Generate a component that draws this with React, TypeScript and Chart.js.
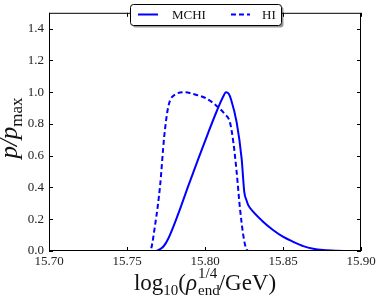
import React, { useEffect, useRef } from "react";
import { Chart, registerables } from "chart.js";

Chart.register(...registerables);

const xTickValues = [15.7, 15.75, 15.8, 15.85, 15.9];
const yTickValues = [0, 0.2, 0.4, 0.6, 0.8, 1.0, 1.2, 1.4];

const mchiX = [15.70, 15.767, 15.7701, 15.7735, 15.7765, 15.7829, 15.7893, 15.7957, 15.8021, 15.8075, 15.8113, 15.8135, 15.8152, 15.8167, 15.8203, 15.8235, 15.8252, 15.8266, 15.8278, 15.8310, 15.8374, 15.8438, 15.8502, 15.8566, 15.863, 15.8694, 15.8758, 15.8844, 15.90];
const mchiY = [0, 0, 0.006, 0.03, 0.079, 0.235, 0.41, 0.58, 0.746, 0.88, 0.965, 1.0, 0.99, 0.954, 0.81, 0.58, 0.37, 0.32, 0.2875, 0.246, 0.183, 0.131, 0.089, 0.058, 0.031, 0.014, 0.006, 0.002, 0];

const hiX = [15.70, 15.7647, 15.768, 15.7712, 15.7739, 15.7765, 15.7808, 15.7872, 15.7936, 15.80, 15.8064, 15.8128, 15.816, 15.8182, 15.8203, 15.8224, 15.8246, 15.8262, 15.828, 15.90];
const hiY = [0, 0, 0.163, 0.41, 0.725, 0.91, 0.985, 1.0, 0.985, 0.965, 0.923, 0.86, 0.81, 0.683, 0.496, 0.27, 0.095, 0.02, 0, 0];

const seriesNames = ["MCHI", "HI"];

const SERIF = "'Liberation Serif', 'DejaVu Serif', serif";
const BLUE = "#0000ff";

type Run = { text?: string; font?: string; dy?: number; sup?: string; sub?: string; supFont?: string; subFont?: string; supDy?: number; subDy?: number };

function drawRuns(ctx: CanvasRenderingContext2D, runs: Run[], cx: number, baseline: number) {
  const widths = runs.map((r) => {
    if (r.text !== undefined) {
      ctx.font = r.font!;
      return ctx.measureText(r.text).width;
    }
    ctx.font = r.supFont!;
    const a = ctx.measureText(r.sup!).width;
    ctx.font = r.subFont!;
    const b = ctx.measureText(r.sub!).width;
    return Math.max(a, b);
  });
  const total = widths.reduce((s, w) => s + w, 0);
  let x = cx - total / 2;
  ctx.textAlign = "left";
  ctx.textBaseline = "alphabetic";
  runs.forEach((r, i) => {
    if (r.text !== undefined) {
      ctx.font = r.font!;
      ctx.fillText(r.text, x, baseline + (r.dy || 0));
    } else {
      ctx.font = r.supFont!;
      ctx.fillText(r.sup!, x + 1, baseline + (r.supDy || 0));
      ctx.font = r.subFont!;
      ctx.fillText(r.sub!, x + 1, baseline + (r.subDy || 0));
    }
    x += widths[i];
  });
}

const decorPlugin = {
  id: "decor",
  afterDraw(chart: any) {
    const { ctx, chartArea, scales } = chart;
    const { left, right, top, bottom } = chartArea;
    const xs = scales.x;
    const ys = scales.y;
    ctx.save();
    ctx.strokeStyle = "#000";
    ctx.lineWidth = 1;
    ctx.setLineDash([]);
    // inward ticks
    const tl = 4;
    ctx.beginPath();
    xTickValues.forEach((v) => {
      const px = Math.round(xs.getPixelForValue(v)) + 0.5;
      ctx.moveTo(px, bottom);
      ctx.lineTo(px, bottom - tl);
      ctx.moveTo(px, top);
      ctx.lineTo(px, top + tl);
    });
    yTickValues.forEach((v) => {
      const py = Math.round(ys.getPixelForValue(v)) + 0.5;
      ctx.moveTo(left, py);
      ctx.lineTo(left + tl, py);
      ctx.moveTo(right, py);
      ctx.lineTo(right - tl, py);
    });
    ctx.stroke();
    // frame
    ctx.strokeRect(left + 0.5, top + 0.5, right - left - 1, bottom - top - 1);

    // legend
    const lx = 130.5, ly = 4.5, lw = 151, lh = 21, r = 3;
    const rr = (x: number, y: number) => {
      ctx.beginPath();
      ctx.moveTo(x + r, y);
      ctx.lineTo(x + lw - r, y);
      ctx.quadraticCurveTo(x + lw, y, x + lw, y + r);
      ctx.lineTo(x + lw, y + lh - r);
      ctx.quadraticCurveTo(x + lw, y + lh, x + lw - r, y + lh);
      ctx.lineTo(x + r, y + lh);
      ctx.quadraticCurveTo(x, y + lh, x, y + lh - r);
      ctx.lineTo(x, y + r);
      ctx.quadraticCurveTo(x, y, x + r, y);
      ctx.closePath();
    };
    rr(lx + 2, ly + 2);
    ctx.fillStyle = "rgba(0,0,0,0.4)";
    ctx.fill();
    rr(lx, ly);
    ctx.fillStyle = "#fff";
    ctx.fill();
    ctx.strokeStyle = "#000";
    ctx.lineWidth = 1;
    ctx.stroke();

    const legY = 14.5;
    ctx.strokeStyle = BLUE;
    ctx.lineWidth = 2;
    ctx.beginPath();
    ctx.moveTo(138, legY);
    ctx.lineTo(158, legY);
    ctx.stroke();
    ctx.setLineDash([5, 3]);
    ctx.beginPath();
    ctx.moveTo(231, legY);
    ctx.lineTo(250, legY);
    ctx.stroke();
    ctx.setLineDash([]);
    ctx.fillStyle = "#111";
    ctx.font = "13px " + SERIF;
    ctx.textAlign = "left";
    ctx.textBaseline = "middle";
    ctx.fillText(seriesNames[0], 172, legY + 1);
    ctx.fillText(seriesNames[1], 262, legY + 1);

    // x axis title
    ctx.fillStyle = "#111";
    const big = "23px " + SERIF;
    const bigI = "italic 23px " + SERIF;
    const small = "15px " + SERIF;
    drawRuns(
      ctx,
      [
        { text: "log", font: big },
        { text: "10", font: small, dy: 5 },
        { text: "(", font: big },
        { text: "ρ", font: bigI },
        { sup: "1/4", sub: "end", supFont: small, subFont: small, supDy: -12, subDy: 5 },
        { text: "/GeV)", font: big },
      ],
      (left + right) / 2,
      290
    );

    // y axis title
    ctx.save();
    ctx.translate(17, 128);
    ctx.rotate(-Math.PI / 2);
    drawRuns(
      ctx,
      [
        { text: "p/p", font: "italic 25px " + SERIF },
        { text: "max", font: "17px " + SERIF, dy: 5 },
      ],
      0,
      0
    );
    ctx.restore();
    ctx.restore();
  },
};

export default function App() {
  const ref = useRef<HTMLCanvasElement | null>(null);
  useEffect(() => {
    document.body.style.margin = "0";
    const canvas = ref.current!;
    const mchi = mchiX.map((x, i) => ({ x, y: mchiY[i] }));
    const hi = hiX.map((x, i) => ({ x, y: hiY[i] }));
    const chart = new Chart(canvas, {
      type: "line",
      data: {
        datasets: [
          {
            label: seriesNames[0],
            data: mchi,
            borderColor: BLUE,
            borderWidth: 2,
            pointRadius: 0,
            fill: false,
            cubicInterpolationMode: "monotone",
          },
          {
            label: seriesNames[1],
            data: hi,
            borderColor: BLUE,
            borderWidth: 2,
            borderDash: [5, 3],
            pointRadius: 0,
            fill: false,
            cubicInterpolationMode: "monotone",
          },
        ],
      },
      options: {
        responsive: false,
        animation: false,
        devicePixelRatio: 1,
        layout: { padding: { top: 11, right: 20, left: 0, bottom: 0 } },
        plugins: { legend: { display: false }, tooltip: { enabled: false } },
        scales: {
          x: {
            type: "linear",
            min: 15.7,
            max: 15.9,
            grid: { display: false, drawTicks: false },
            border: { display: false },
            afterBuildTicks: (s: any) => {
              s.ticks = xTickValues.map((v) => ({ value: v }));
            },
            afterFit: (s: any) => {
              s.height = 54;
            },
            ticks: {
              padding: 3,
              color: "#222",
              font: { family: SERIF, size: 13 },
              maxRotation: 0,
              autoSkip: false,
              callback: (v: any) => Number(v).toFixed(2),
            },
          },
          y: {
            type: "linear",
            min: 0,
            max: 1.5,
            grid: { display: false, drawTicks: false },
            border: { display: false },
            afterBuildTicks: (s: any) => {
              s.ticks = yTickValues.map((v) => ({ value: v }));
            },
            afterFit: (s: any) => {
              s.width = 49;
            },
            ticks: {
              padding: 5,
              color: "#222",
              font: { family: SERIF, size: 13 },
              autoSkip: false,
              callback: (v: any) => Number(v).toFixed(1),
            },
          },
        },
      },
      plugins: [decorPlugin],
    } as any);
    return () => chart.destroy();
  }, []);
  return <canvas ref={ref} width={381} height={305} style={{ display: "block" }} />;
}
